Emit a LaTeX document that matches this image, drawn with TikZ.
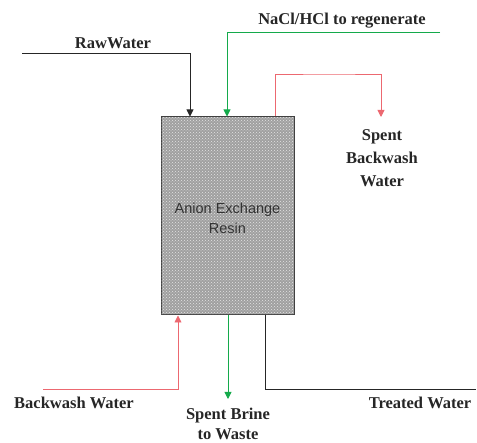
\documentclass[tikz,border=0pt]{standalone}
\usepackage{fontspec}
\setmainfont{Liberation Serif}
\setsansfont{Liberation Sans}
\usetikzlibrary{arrows.meta,patterns}
\definecolor{lred}{RGB}{236,104,112}
\definecolor{lgreen}{RGB}{20,170,75}
\definecolor{boxgray}{RGB}{160,160,160}
\begin{document}
\begin{tikzpicture}[x=1pt,y=-1pt,
  flow/.style={line width=0.9pt,-{Triangle[width=7pt,length=7pt]}},
  lbl/.style={font=\bfseries\fontsize{16.5}{23}\selectfont,text=black!85,align=center,inner sep=0pt},
  resinbox/.style={draw=black!75,line width=1pt,fill=boxgray,minimum width=133pt,minimum height=198pt,inner sep=0pt}]
\useasboundingbox (0,0) rectangle (477,443);
\node[resinbox] (resin) at (227.5,216) {};
\fill[pattern=crosshatch dots,pattern color=white!80!gray] (161.5,117.5) rectangle (293.5,314.5);
\node[align=center,font=\sffamily\fontsize{14.5}{20}\selectfont,text=black!80] (rtext) at (227.5,218) {Anion Exchange\\Resin};
% labels
\node[lbl] (lraw) at (113,43) {RawWater};
\node[lbl] (lnacl) at (342,21) {NaCl/HCl to regenerate};
\node[lbl] (lspentbw) at (382,158) {Spent\\Backwash\\Water};
\node[lbl] (lbw) at (74,403) {Backwash Water};
\node[lbl,font=\bfseries\fontsize{16.5}{20}\selectfont] (lbrine) at (228,424) {Spent Brine\\to Waste};
\node[lbl] (ltreated) at (420,403) {Treated Water};
% coordinates
\coordinate (rawstart) at (22,53);
\coordinate (naclstart) at (440,32);
\coordinate (bwstart) at (43,389);
\coordinate (brineend) at (228,399);
\coordinate (treatedend) at (476,389);
\coordinate (spentend) at (381,117);
% flows
\draw[flow,black!85] (rawstart) -| (resin.north -| 190,0);
\draw[flow,lgreen] (naclstart) -| (resin.north -| 227,0);
\draw[flow,lred] (resin.north -| 275,0) |- (330,74) -| (spentend);
\draw[flow,lred] (bwstart) -| (resin.south -| 178,0);
\draw[flow,lgreen] (resin.south -| 228,0) -- (brineend);
\draw[line width=0.9pt,black!85] (resin.south -| 265,0) |- (treatedend);
\end{tikzpicture}
\end{document}
